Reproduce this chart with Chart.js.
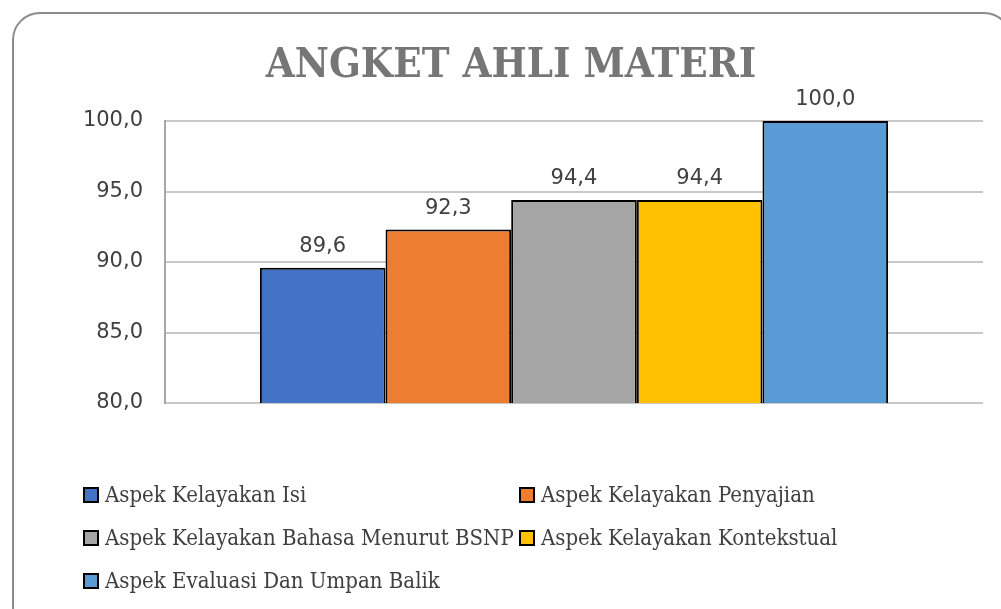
<!DOCTYPE html>
<html>
<head>
<meta charset="utf-8">
<script src="https://cdn.jsdelivr.net/npm/chart.js@4/dist/chart.umd.min.js"></script>
<style>
  html, body { margin: 0; padding: 0; background: #fff; overflow: hidden; width: 1001px; height: 609px; }
  #frame { position: absolute; left: 12px; top: 12px; width: 996px; height: 620px; border: 2px solid #8c8c8c; border-radius: 28px; }
  #wrap { position: absolute; left: 0; top: 0; width: 1022px; height: 609px; }
</style>
</head>
<body>
<div id="frame"></div>
<div id="wrap"><canvas id="chart"></canvas></div>
<script>
// data
var judul = 'ANGKET AHLI MATERI';
var kategori = [''];
var aspek = [
  'Aspek Kelayakan Isi',
  'Aspek Kelayakan Penyajian',
  'Aspek Kelayakan Bahasa Menurut BSNP',
  'Aspek Kelayakan Kontekstual',
  'Aspek Evaluasi Dan Umpan Balik'
];
var nilai = [89.6, 92.3, 94.4, 94.4, 100.0];
var warna = ['#4472C4', '#ED7D31', '#A5A5A5', '#FFC000', '#5B9BD5'];
var yTicks = [80, 85, 90, 95, 100];

function fmt(v) { return v.toFixed(1).replace('.', ','); }

var datasets = aspek.map(function (nama, i) {
  return {
    label: nama,
    data: [nilai[i]],
    backgroundColor: warna[i],
    borderColor: '#000',
    borderWidth: 2,
    borderSkipped: false,
    categoryPercentage: 0.768,
    barPercentage: 1
  };
});

// judul (digambar sendiri supaya posisinya di tengah bingkai)
var judulAtas = {
  id: 'judulAtas',
  afterDraw: function (chart) {
    var ctx = chart.ctx;
    ctx.save();
    ctx.font = 'bold 41.5px "DejaVu Serif Condensed", "DejaVu Serif"';
    ctx.fillStyle = '#767676';
    ctx.textAlign = 'center';
    ctx.textBaseline = 'alphabetic';
    ctx.fillText(judul, 511, 77);
    ctx.restore();
  }
};

// label nilai di atas batang
var labelNilai = {
  id: 'labelNilai',
  afterDatasetsDraw: function (chart) {
    var ctx = chart.ctx;
    ctx.save();
    ctx.font = '21px "DejaVu Sans"';
    ctx.fillStyle = '#404040';
    ctx.textAlign = 'center';
    ctx.textBaseline = 'bottom';
    chart.data.datasets.forEach(function (ds, i) {
      chart.getDatasetMeta(i).data.forEach(function (bar, j) {
        ctx.fillText(fmt(ds.data[j]), bar.x, bar.y - 11);
      });
    });
    ctx.restore();
  }
};

// legenda dua kolom
var legendaBawah = {
  id: 'legendaBawah',
  afterDraw: function (chart) {
    var ctx = chart.ctx;
    var kolomX = [84, 520];
    var barisY = [495, 538, 581];
    ctx.save();
    ctx.font = '22px "DejaVu Serif Condensed", "DejaVu Serif"';
    ctx.textBaseline = 'middle';
    ctx.textAlign = 'left';
    chart.data.datasets.forEach(function (ds, i) {
      var x = kolomX[i % 2], y = barisY[Math.floor(i / 2)];
      ctx.fillStyle = ds.backgroundColor;
      ctx.fillRect(x, y - 7, 14, 14);
      ctx.lineWidth = 2;
      ctx.strokeStyle = '#000';
      ctx.strokeRect(x, y - 7, 14, 14);
      ctx.fillStyle = '#404040';
      ctx.fillText(ds.label, x + 21, y + 1);
    });
    ctx.restore();
  }
};

new Chart(document.getElementById('chart'), {
  type: 'bar',
  data: { labels: kategori, datasets: datasets },
  plugins: [judulAtas, labelNilai, legendaBawah],
  options: {
    responsive: true,
    maintainAspectRatio: false,
    animation: false,
    layout: { padding: { left: 0, right: 39, top: 121, bottom: 206 } },
    plugins: {
      legend: { display: false },
      tooltip: { enabled: false },
      title: { display: false }
    },
    scales: {
      x: { display: false },
      y: {
        min: 80,
        max: 100,
        afterFit: function (scale) { scale.width = 165; },
        afterBuildTicks: function (scale) {
          scale.ticks = yTicks.map(function (v) { return { value: v }; });
        },
        ticks: {
          padding: 22,
          color: '#404040',
          font: { family: '"DejaVu Sans"', size: 21 },
          callback: function (v) { return fmt(v); }
        },
        grid: { color: '#c8c8c8', lineWidth: 2, drawTicks: false },
        border: { color: '#a6a6a6', width: 2 }
      }
    }
  }
});
</script>
</body>
</html>
